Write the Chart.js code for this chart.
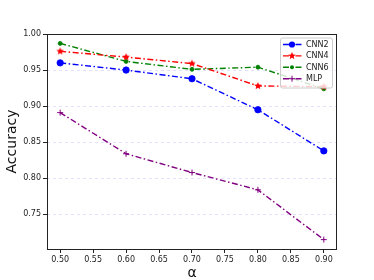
<!DOCTYPE html>
<html>
<head>
<meta charset="utf-8">
<script src="https://cdn.jsdelivr.net/npm/chart.js@4.4.1/dist/chart.umd.min.js"></script>
<style>
  html, body { margin: 0; padding: 0; background: #fff; }
  #wrap { width: 374px; height: 280px; }
</style>
</head>
<body>
<div id="wrap"><canvas id="myChart" width="374" height="280"></canvas></div>
<script>
// data
const alphas = [0.50, 0.60, 0.70, 0.80, 0.90];
const cnn2 = [0.960, 0.950, 0.938, 0.895, 0.838];
const cnn4 = [0.976, 0.968, 0.959, 0.928, 0.927];
const cnn6 = [0.987, 0.962, 0.951, 0.954, 0.924];
const mlp = [0.891, 0.834, 0.808, 0.784, 0.715];
const xTicks = [0.50, 0.55, 0.60, 0.65, 0.70, 0.75, 0.80, 0.85, 0.90];
const yTicks = [0.75, 0.80, 0.85, 0.90, 0.95, 1.00];
const seriesNames = ['CNN2', 'CNN4', 'CNN6', 'MLP'];

const FONT = 'DejaVu Sans';
const dashDot = [6, 2.5, 1.5, 2.5];

// filled star marker like matplotlib '*'
function makeStar(color, r) {
    var c = document.createElement('canvas');
    var s = Math.ceil(r * 2 + 2);
    c.width = s; c.height = s;
    var g = c.getContext('2d');
    g.fillStyle = color;
    g.beginPath();
    for (var i = 0; i < 10; i++) {
        var rad = i % 2 === 0 ? r : r * 0.45;
        var a = -Math.PI / 2 + i * Math.PI / 5;
        var px = s / 2 + rad * Math.cos(a), py = s / 2 + rad * Math.sin(a);
        if (i === 0) g.moveTo(px, py); else g.lineTo(px, py);
    }
    g.closePath();
    g.fill();
    return c;
}
const starImg = makeStar('#ff0000', 4);

function pts(ys) {
    return alphas.map((a, i) => ({ x: a, y: ys[i] }));
}

const data = {
    datasets: [
        { label: seriesNames[0], data: pts(cnn2), borderColor: '#0000ff', backgroundColor: '#0000ff',
          pointStyle: 'circle', pointRadius: 3.2, marker: 'circle', markerR: 3.1 },
        { label: seriesNames[1], data: pts(cnn4), borderColor: '#ff0000', backgroundColor: '#ff0000',
          pointStyle: starImg, pointRadius: 4, marker: 'star', markerR: 4 },
        { label: seriesNames[2], data: pts(cnn6), borderColor: '#008000', backgroundColor: '#008000',
          pointStyle: 'circle', pointRadius: 2, marker: 'circle', markerR: 2 },
        { label: seriesNames[3], data: pts(mlp), borderColor: '#800080', backgroundColor: '#800080',
          pointStyle: 'cross', pointRadius: 3, pointBorderWidth: 1, marker: 'cross', markerR: 3 }
    ]
};
data.datasets.forEach(function (d) {
    d.borderWidth = 1.4;
    d.borderDash = dashDot;
    d.fill = false;
    d.tension = 0;
    d.pointBorderWidth = d.pointBorderWidth || 0.8;
    d.pointBorderColor = d.borderColor;
});

// frame round the plot + legend inside, top right
const framePlugin = {
    id: 'frame',
    afterDraw: function (chart) {
        var ctx = chart.ctx, a = chart.chartArea;
        ctx.save();
        ctx.strokeStyle = '#222';
        ctx.lineWidth = 1;
        ctx.setLineDash([]);
        ctx.strokeRect(a.left + 0.5, a.top + 0.5, a.right - a.left - 1, a.bottom - a.top);

        // legend
        var bx = 280, by = 37.5, bw = 52, bh = 50;
        ctx.fillStyle = 'rgba(255,255,255,0.8)';
        ctx.strokeStyle = '#cccccc';
        ctx.beginPath();
        ctx.roundRect(bx + 0.5, by + 0.5, bw, bh, 2);
        ctx.fill();
        ctx.stroke();
        ctx.font = '8px ' + FONT;
        ctx.textBaseline = 'middle';
        chart.data.datasets.forEach(function (d, i) {
            var y = 44.5 + i * 11.4;
            ctx.strokeStyle = d.borderColor;
            ctx.lineWidth = 1.4;
            ctx.setLineDash(dashDot);
            ctx.beginPath();
            ctx.moveTo(283, y);
            ctx.lineTo(302, y);
            ctx.stroke();
            ctx.setLineDash([]);
            var mx = 292;
            ctx.fillStyle = d.borderColor;
            if (d.marker === 'circle') {
                ctx.beginPath();
                ctx.arc(mx, y, d.markerR, 0, Math.PI * 2);
                ctx.fill();
            } else if (d.marker === 'star') {
                ctx.drawImage(starImg, mx - starImg.width / 2, y - starImg.height / 2);
            } else {
                ctx.lineWidth = 1;
                ctx.beginPath();
                ctx.moveTo(mx - 3, y); ctx.lineTo(mx + 3, y);
                ctx.moveTo(mx, y - 3); ctx.lineTo(mx, y + 3);
                ctx.stroke();
            }
            ctx.fillStyle = '#222';
            ctx.fillText(d.label, 306, y + 0.5);
        });
        ctx.restore();
    }
};

Chart.defaults.font.family = FONT;
Chart.defaults.color = '#222';

const config = {
    type: 'line',
    data: data,
    options: {
        responsive: false,
        animation: false,
        layout: { padding: { top: 34, right: 37, left: 0, bottom: 0 } },
        plugins: { legend: { display: false }, tooltip: { enabled: false } },
        scales: {
            x: {
                type: 'linear',
                min: 0.48,
                max: 0.92,
                afterBuildTicks: function (scale) {
                    scale.ticks = xTicks.map(v => ({ value: v }));
                },
                afterFit: function (scale) { scale.height = 31; },
                ticks: {
                    font: { size: 8 },
                    color: '#222',
                    padding: 2,
                    maxRotation: 0,
                    callback: v => Number(v).toFixed(2)
                },
                grid: { display: true, drawOnChartArea: false, tickLength: 4, tickColor: '#222' },
                border: { display: false },
                title: { display: true, text: 'α', font: { size: 14 }, color: '#111', padding: { top: 0, bottom: -2 } }
            },
            y: {
                min: 0.702,
                max: 1.0,
                afterBuildTicks: function (scale) {
                    scale.ticks = yTicks.map(v => ({ value: v }));
                },
                afterFit: function (scale) { scale.width = 47; },
                ticks: {
                    font: { size: 8 },
                    color: '#222',
                    padding: 2,
                    callback: v => Number(v).toFixed(2)
                },
                grid: {
                    display: true,
                    color: 'rgba(175,165,245,0.35)',
                    borderDash: [3, 3],
                    tickLength: 4,
                    tickColor: '#222',
                    tickBorderDash: [],
                    lineWidth: 1
                },
                border: { display: false, dash: [3, 3] },
                title: { display: true, text: 'Accuracy', font: { size: 14 }, color: '#111', padding: { top: 4, bottom: 0 } }
            }
        }
    },
    plugins: [framePlugin]
};

var myChart = new Chart(document.getElementById('myChart'), config);
</script>
</body>
</html>
